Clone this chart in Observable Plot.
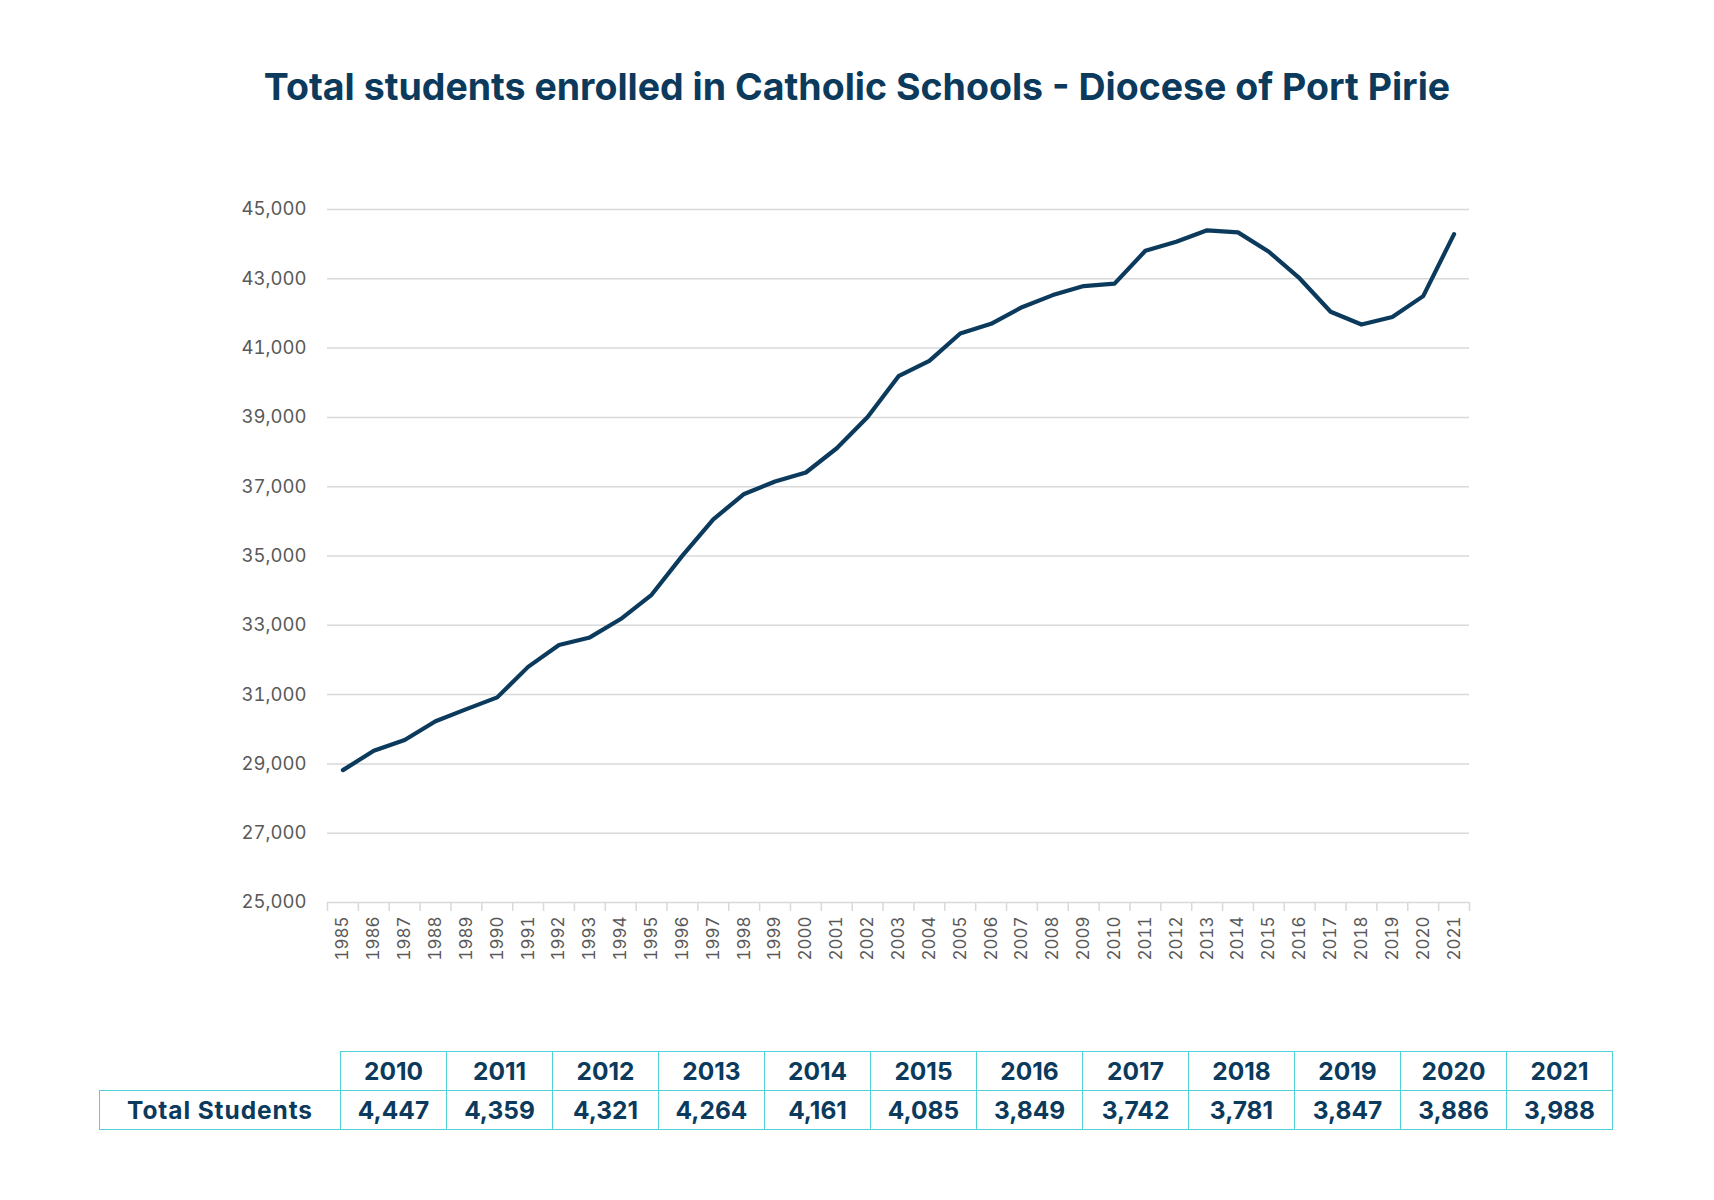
<!DOCTYPE html>
<html><head><meta charset="utf-8">
<script src="https://cdn.jsdelivr.net/npm/d3@7"></script>
<script src="https://cdn.jsdelivr.net/npm/@observablehq/plot@0.6"></script>
<style>
html,body{margin:0;padding:0;background:#fff;}
#wrap{position:relative;width:1714px;height:1200px;font-family:Inter, "Noto Sans", sans-serif;overflow:hidden;}
#title{position:absolute;left:0;top:64px;width:1714px;text-align:center;font-size:37.5px;font-weight:700;color:#0b3a5c;line-height:46px;}
#chart{position:absolute;left:0;top:150px;}
#tbl{position:absolute;left:99px;top:1051px;border-collapse:collapse;table-layout:fixed;color:#0b3a5c;font-weight:700;font-size:24.5px;}
#tbl td{border:1.5px solid #4fd3d8;height:38px;padding:0;text-align:center;}
#tbl td.lab{width:240px;letter-spacing:0.9px;}
#tbl td.yr{width:105px;}
#tbl td.blank{border-top:none;border-left:none;}
</style></head>
<body><div id="wrap">
<div id="title">Total students enrolled in Catholic Schools - Diocese of Port Pirie</div>
<div id="chart"></div>
<table id="tbl"></table>
</div>
<script>
const years = [1985,1986,1987,1988,1989,1990,1991,1992,1993,1994,1995,1996,1997,1998,1999,2000,2001,2002,2003,2004,2005,2006,2007,2008,2009,2010,2011,2012,2013,2014,2015,2016,2017,2018,2019,2020,2021];
const enrolments = [28820,29380,29690,30230,30580,30920,31800,32430,32650,33180,33880,35010,36060,36790,37150,37410,38110,39010,40190,40630,41420,41700,42180,42530,42790,42860,43810,44070,44400,44340,43780,43010,42050,41680,41900,42500,44290];
const yTicks = [25000,27000,29000,31000,33000,35000,37000,39000,41000,43000,45000];
const tableLabel = "Total Students";
const tableYears = ["2010","2011","2012","2013","2014","2015","2016","2017","2018","2019","2020","2021"];
const tableValues = ["4,447","4,359","4,321","4,264","4,161","4,085","3,849","3,742","3,781","3,847","3,886","3,988"];

const data = years.map((y, i) => ({year: y, value: enrolments[i]}));
const boundaries = years.map(y => y - 0.5).concat([years[years.length - 1] + 0.5]);
const fmt = d3.format(",.0f");

const chart = Plot.plot({
  width: 1714, height: 840,
  marginTop: 59, marginBottom: 88, marginLeft: 327, marginRight: 245,
  style: {fontFamily: "Inter, 'Noto Sans', sans-serif", background: "white"},
  x: {type: "linear", domain: [boundaries[0], boundaries[boundaries.length - 1]]},
  y: {domain: [yTicks[0], yTicks[yTicks.length - 1]]},
  marks: [
    Plot.ruleY(yTicks, {stroke: "#d9d9d9", strokeWidth: 1.5}),
    Plot.axisY({ticks: yTicks, tickFormat: fmt, tickSize: 0, tickPadding: 21, fontSize: 18.5, fill: "#595959", label: null}),
    Plot.axisX({ticks: boundaries, tickFormat: () => "", tickSize: 9, stroke: "#d9d9d9", strokeWidth: 1.5, strokeOpacity: 1, label: null}),
    Plot.axisX({ticks: years, tickFormat: d => String(d), tickSize: 0, tickPadding: 14, tickRotate: -90, fontSize: 17, fill: "#595959", label: null}),
    Plot.lineY(data, {x: "year", y: "value", stroke: "#0b3a5c", strokeWidth: 4.2, strokeLinejoin: "round", strokeLinecap: "round"})
  ]
});
document.getElementById("chart").appendChild(chart);

const tbl = d3.select("#tbl");
const r1 = tbl.append("tr");
r1.append("td").attr("class", "lab blank");
tableYears.forEach(y => r1.append("td").attr("class", "yr").text(y));
const r2 = tbl.append("tr");
r2.append("td").attr("class", "lab").text(tableLabel);
tableValues.forEach(v => r2.append("td").attr("class", "yr").text(v));
</script>
</body></html>
